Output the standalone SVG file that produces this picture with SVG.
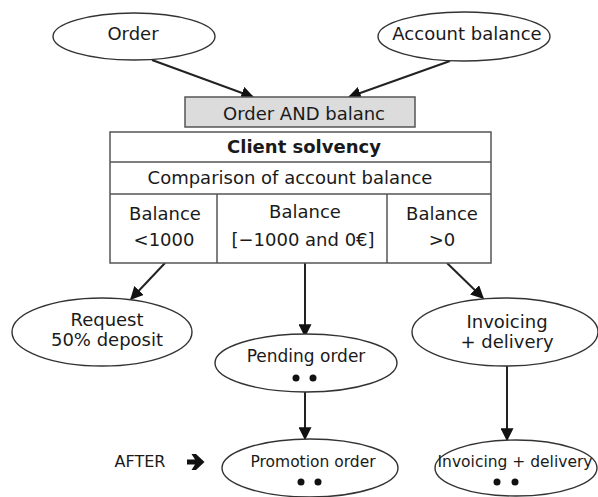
<svg xmlns="http://www.w3.org/2000/svg" width="598" height="497" viewBox="0 0 598 497">
  <style>
    text { font-family: "DejaVu Sans", "Liberation Sans", sans-serif; fill: #1a1a1a; text-anchor: middle; }
    .t18 { font-size: 18px; }
    .t16 { font-size: 17px; }
    .t15 { font-size: 15.5px; }
    .bold { font-weight: bold; }
    .node { fill: #fff; stroke: #333; stroke-width: 1.4; }
    .cell { fill: #fff; stroke: #555; stroke-width: 1.5; }
    .conn { stroke: #222; stroke-width: 2; fill: none; marker-end: url(#arrow); }
    .dot { fill: #111; }
  </style>
  <defs>
    <marker id="arrow" viewBox="0 0 10 10" refX="9" refY="5" markerWidth="6.5" markerHeight="6.5" orient="auto" markerUnits="strokeWidth">
      <path d="M0,0 L10,5 L0,10 Z" fill="#111"/>
    </marker>
  </defs>
  <rect width="598" height="497" fill="#fff"/>

  <!-- connectors -->
  <g id="connectors">
    <line class="conn" x1="152" y1="60" x2="253" y2="97"/>
    <line class="conn" x1="450" y1="61" x2="349" y2="97"/>
    <line class="conn" x1="165" y1="263" x2="131" y2="299"/>
    <line class="conn" x1="305" y1="263" x2="305" y2="336"/>
    <line class="conn" x1="447" y1="263" x2="483" y2="298"/>
    <line class="conn" x1="305" y1="392" x2="305" y2="439"/>
    <line class="conn" x1="507" y1="366" x2="507" y2="440"/>
  </g>

  <!-- inputs -->
  <g id="order">
    <ellipse class="node" cx="134" cy="36.5" rx="81" ry="23.5"/>
    <text class="t18" x="133" y="40">Order</text>
  </g>
  <g id="account-balance">
    <ellipse class="node" cx="464" cy="36.5" rx="86" ry="24.5"/>
    <text class="t18" x="467" y="40">Account balance</text>
  </g>

  <g id="order-and-balance">
    <rect x="185" y="97" width="230" height="30" fill="#dcdcdc" stroke="#555" stroke-width="1.5"/>
    <text class="t18" x="304" y="120">Order AND balanc</text>
  </g>

  <!-- decision table -->
  <g id="client-solvency">
    <rect class="cell" x="110" y="132" width="381" height="131"/>
    <line stroke="#555" stroke-width="1.5" x1="110" y1="162" x2="491" y2="162"/>
    <line stroke="#555" stroke-width="1.5" x1="110" y1="194" x2="491" y2="194"/>
    <line stroke="#555" stroke-width="1.5" x1="217" y1="194" x2="217" y2="263"/>
    <line stroke="#555" stroke-width="1.5" x1="387" y1="194" x2="387" y2="263"/>
    <text class="t18 bold" x="304" y="153">Client solvency</text>
    <text class="t18" x="290" y="184">Comparison of account balance</text>
    <text class="t18" x="165" y="220">Balance</text>
    <text class="t18" x="164" y="246">&lt;1000</text>
    <text class="t18" x="305" y="218">Balance</text>
    <text class="t18" x="303" y="246">[−1000 and 0€]</text>
    <text class="t18" x="442" y="220">Balance</text>
    <text class="t18" x="442" y="246">&gt;0</text>
  </g>

  <!-- outcomes -->
  <g id="request-deposit">
    <ellipse class="node" cx="102" cy="332" rx="90" ry="34"/>
    <text class="t18" x="107" y="326">Request</text>
    <text class="t18" x="107" y="346">50% deposit</text>
  </g>
  <g id="pending-order">
    <ellipse class="node" cx="306" cy="363" rx="91" ry="29"/>
    <text class="t16" x="306" y="362">Pending order</text>
    <circle class="dot" cx="296" cy="378" r="3.5"/>
    <circle class="dot" cx="313" cy="378" r="3.5"/>
  </g>
  <g id="invoicing-delivery">
    <ellipse class="node" cx="505" cy="332" rx="93" ry="34"/>
    <text class="t18" x="507" y="328">Invoicing</text>
    <text class="t18" x="507" y="348">+ delivery</text>
  </g>

  <!-- later stage -->
  <g id="after-label">
    <text x="140" y="467" style="font-size:16px">AFTER</text>
    <!-- heavy pointer arrow -->
    <path d="M187,459.5 L195,459.5 L191.5,454 L196,454 L204.5,462 L196,470 L191.5,470 L195,464.5 L187,464.5 Z" fill="#111"/>
  </g>
  <g id="promotion-order">
    <ellipse class="node" cx="310" cy="468" rx="88" ry="29"/>
    <text class="t15" x="313" y="467">Promotion order</text>
    <circle class="dot" cx="301" cy="482" r="3.5"/>
    <circle class="dot" cx="318" cy="482" r="3.5"/>
  </g>
  <g id="invoicing-delivery-after">
    <ellipse class="node" cx="516" cy="468" rx="81" ry="28"/>
    <text class="t15" x="515" y="467">Invoicing + delivery</text>
    <circle class="dot" cx="497" cy="482" r="3.5"/>
    <circle class="dot" cx="515" cy="482" r="3.5"/>
  </g>
</svg>
